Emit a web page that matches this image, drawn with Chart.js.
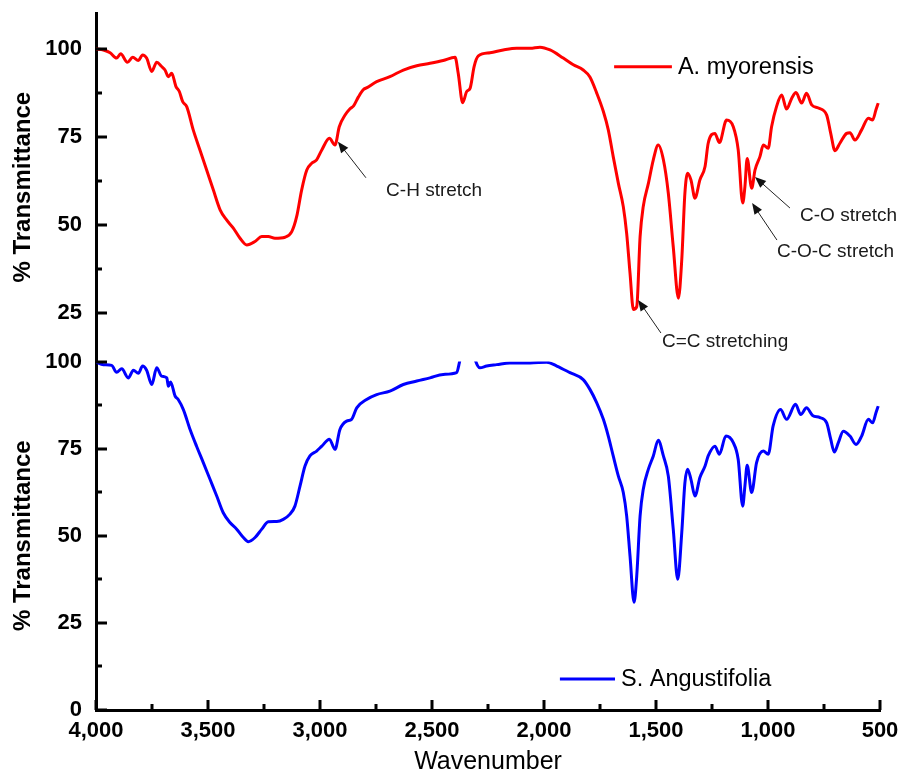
<!DOCTYPE html>
<html>
<head>
<meta charset="utf-8">
<script src="https://cdn.jsdelivr.net/npm/chart.js@4.4.1/dist/chart.umd.min.js"></script>
<style>
    html, body { margin: 0; padding: 0; background: #fff; }
    canvas { display: block; }
</style>
</head>
<body>
<canvas id="ftirChart" width="901" height="777"></canvas>
<script>
"use strict";

// series names
var seriesNames = ['A. myorensis', 'S. Angustifolia'];

// A. myorensis (top panel)
var redWavenumber = [4000, 3967, 3937, 3908, 3890, 3860, 3836, 3811, 3792, 3774, 3751, 3729, 3707, 3692, 3677, 3662, 3643, 3628, 3613, 3595,
    3566, 3536, 3506, 3476, 3446, 3417, 3387, 3357, 3327, 3290, 3260, 3231, 3201, 3156, 3126, 3104, 3082, 3059, 3037, 3015,
    2992, 2958, 2933, 2914, 2888, 2866, 2850, 2829, 2807, 2790, 2747, 2688, 2628, 2568, 2509, 2450, 2397, 2383, 2363, 2345,
    2330, 2312, 2293, 2241, 2182, 2122, 2062, 2018, 1973, 1914, 1869, 1825, 1795, 1765, 1735, 1713, 1691, 1668, 1646, 1631,
    1616, 1601, 1586, 1571, 1557, 1534, 1512, 1490, 1467, 1445, 1423, 1400, 1385, 1371, 1359, 1344, 1326, 1304, 1281, 1267,
    1237, 1217, 1185, 1155, 1133, 1113, 1103, 1093, 1073, 1058, 1036, 1021, 999, 984, 962, 939, 917, 894, 875, 850,
    828, 805, 775, 738, 720, 701, 679, 649, 634, 612, 582, 552, 533, 518, 508];
var redTransmittance = [100.0, 99.7, 98.9, 97.4, 98.6, 96.2, 97.6, 96.7, 98.3, 97.4, 93.6, 96.2, 95.0, 94.0, 92.1, 93.1, 89.3, 87.9, 85.0, 83.6,
    77.0, 71.3, 65.6, 59.9, 54.3, 51.4, 49.1, 46.2, 44.3, 45.3, 46.7, 46.7, 46.2, 46.5, 48.1, 52.4, 59.9, 65.6, 67.5, 68.5,
    71.3, 74.6, 72.7, 77.9, 81.2, 83.0, 83.8, 86.3, 88.4, 89.0, 90.7, 92.1, 94.0, 95.2, 95.9, 96.7, 97.6, 93.1, 84.7, 87.9,
    88.8, 95.0, 98.0, 98.9, 99.7, 100.2, 100.2, 100.5, 99.7, 97.4, 95.5, 94.0, 92.0, 87.5, 82.2, 77.0, 69.4, 61.8, 55.2, 47.6,
    36.3, 26.0, 26.8, 46.7, 55.2, 61.8, 68.5, 72.7, 68.5, 59.0, 43.8, 29.2, 40.1, 59.0, 64.7, 62.8, 57.6, 62.8, 66.6, 73.2,
    76.0, 73.4, 79.8, 77.9, 71.3, 56.2, 60.9, 68.9, 60.4, 65.6, 69.4, 72.7, 71.8, 77.9, 83.6, 86.9, 82.9, 86.0, 87.6, 84.6,
    87.4, 84.1, 83.2, 81.2, 76.0, 71.1, 73.2, 76.0, 76.2, 74.1, 77.0, 80.3, 79.8, 82.7, 84.6];

// S. Angustifolia (bottom panel)
var blueWavenumber = [4000, 3967, 3930, 3908, 3885, 3856, 3833, 3811, 3792, 3774, 3751, 3729, 3707, 3684, 3677, 3667, 3647, 3633, 3610, 3580,
    3551, 3521, 3491, 3461, 3432, 3402, 3372, 3342, 3320, 3290, 3260, 3231, 3193, 3164, 3134, 3112, 3089, 3067, 3045, 3015,
    2992, 2958, 2933, 2911, 2881, 2859, 2836, 2792, 2747, 2688, 2628, 2568, 2509, 2450, 2390, 2378, 2365, 2320, 2305, 2286,
    2256, 2211, 2152, 2062, 1988, 1943, 1884, 1825, 1795, 1765, 1735, 1713, 1691, 1668, 1646, 1631, 1616, 1598, 1586, 1571,
    1557, 1534, 1512, 1490, 1467, 1445, 1423, 1403, 1385, 1371, 1359, 1344, 1326, 1304, 1281, 1267, 1237, 1217, 1188, 1155,
    1133, 1113, 1103, 1093, 1073, 1051, 1021, 999, 977, 944, 917, 877, 854, 828, 801, 768, 738, 720, 704, 686,
    664, 634, 607, 582, 552, 533, 518, 508];
var blueTransmittance = [99.8, 99.1, 98.9, 96.9, 97.9, 95.3, 97.5, 96.6, 98.7, 97.5, 93.4, 98.2, 95.8, 95.3, 92.9, 94.1, 90.1, 89.1, 86.2, 80.5,
    75.7, 71.0, 66.2, 61.4, 56.6, 53.8, 51.9, 49.5, 48.3, 49.5, 51.9, 54.0, 54.1, 54.7, 56.2, 58.5, 64.3, 70.0, 72.9, 74.3,
    75.7, 77.7, 74.8, 80.5, 82.9, 83.4, 86.7, 89.1, 90.5, 91.5, 93.4, 94.4, 95.3, 96.3, 96.8, 99.6, 104.0, 104.0, 100.1, 98.2,
    98.7, 99.1, 99.6, 99.6, 99.8, 98.7, 96.8, 94.8, 92.0, 88.2, 83.4, 78.6, 72.9, 67.1, 62.4, 55.7, 44.2, 30.9, 38.5, 55.7,
    63.3, 69.1, 72.9, 77.4, 72.9, 67.1, 51.9, 37.5, 50.9, 65.2, 69.1, 66.2, 61.4, 66.7, 70.0, 72.9, 75.7, 73.4, 78.6, 76.7,
    71.9, 58.5, 64.3, 70.2, 62.4, 71.0, 74.3, 73.4, 81.5, 86.2, 83.4, 87.7, 84.8, 86.7, 84.5, 83.9, 82.4, 77.7, 74.0, 76.7,
    80.0, 78.6, 76.2, 78.6, 83.4, 82.4, 85.3, 87.2];

// tick labels
var xTicks = [4000, 3500, 3000, 2500, 2000, 1500, 1000, 500];
var xMinorTicks = [3750, 3250, 2750, 2250, 1750, 1250, 750];
var topTicks = [25, 50, 75, 100];
var topMinorTicks = [37.5, 62.5, 87.5];
var bottomTicks = [0, 25, 50, 75, 100];
var bottomMinorTicks = [12.5, 37.5, 62.5, 87.5];

// peak labels: [text, tip wavenumber, tip %T, tail wavenumber, tail %T, text wavenumber, text %T]
var peakLabels = [
    ['C-H stretch', 2920, 73.6, 2795, 63.4, 2705, 59.7],
    ['C=C stretching', 1580, 28.7, 1478, 19.3, 1473, 16.8],
    ['C-O-C stretch', 1071, 56.2, 960, 45.7, 960, 42.3],
    ['C-O stretch', 1058, 63.6, 902, 54.8, 857, 52.6]
];

function toPoints(xs, ys) {
    return xs.map(function(x, i) {
        return { x: x, y: ys[i] };
    });
}

Chart.defaults.font.family = "'Liberation Sans', Arial, sans-serif";
Chart.defaults.color = '#000';

// clip each curve to its own panel
var panelClip = {
    id: 'panelClip',
    beforeDatasetDraw: function(chart, args) {
        var ys = chart.scales[args.meta.yAxisID];
        var ctx = chart.ctx;
        ctx.save();
        ctx.beginPath();
        ctx.rect(chart.chartArea.left, ys.top - 1, chart.chartArea.width + 4, ys.bottom - ys.top + 2);
        ctx.clip();
    },
    afterDatasetDraw: function(chart) {
        chart.ctx.restore();
    }
};

// inward tick marks, legends and peak labels
var decorations = {
    id: 'decorations',
    afterDraw: function(chart) {
        var ctx = chart.ctx;
        var xs = chart.scales.x;
        var yt = chart.scales.yTop;
        var yb = chart.scales.yBot;
        var left = chart.chartArea.left;
        var bottom = chart.chartArea.bottom;

        ctx.save();
        ctx.strokeStyle = '#000';
        ctx.lineWidth = 3;

        function yTicks(scale, vals, len) {
            vals.forEach(function(v) {
                var py = Math.round(scale.getPixelForValue(v));
                ctx.beginPath();
                ctx.moveTo(left, py);
                ctx.lineTo(left + len, py);
                ctx.stroke();
            });
        }
        function xTickMarks(vals, len) {
            vals.forEach(function(v) {
                var px = Math.round(xs.getPixelForValue(v));
                ctx.beginPath();
                ctx.moveTo(px, bottom);
                ctx.lineTo(px, bottom - len);
                ctx.stroke();
            });
        }
        yTicks(yt, topTicks, 11);
        yTicks(yt, topMinorTicks, 6);
        yTicks(yb, bottomTicks, 11);
        yTicks(yb, bottomMinorTicks, 6);
        xTickMarks(xTicks, 10);
        xTickMarks(xMinorTicks, 6);

        // legends
        var legends = [
            { name: seriesNames[0], color: '#ff0000', scale: yt, x0: 1687, x1: 1429, y: 94.9 },
            { name: seriesNames[1], color: '#0000ff', scale: yb, x0: 1929, x1: 1683, y: 8.9 }
        ];
        ctx.font = "23.5px 'Liberation Sans', Arial, sans-serif";
        ctx.textBaseline = 'middle';
        ctx.textAlign = 'left';
        legends.forEach(function(l) {
            var py = l.scale.getPixelForValue(l.y);
            var p0 = xs.getPixelForValue(l.x0);
            var p1 = xs.getPixelForValue(l.x1);
            ctx.strokeStyle = l.color;
            ctx.lineWidth = 3;
            ctx.beginPath();
            ctx.moveTo(p0, py);
            ctx.lineTo(p1, py);
            ctx.stroke();
            ctx.fillStyle = '#000';
            ctx.fillText(l.name, p1 + 6, py + 1);
        });

        // peak labels with arrows
        ctx.font = "19px 'Liberation Sans', Arial, sans-serif";
        peakLabels.forEach(function(p) {
            var tx = xs.getPixelForValue(p[1]), ty = yt.getPixelForValue(p[2]);
            var sx = xs.getPixelForValue(p[3]), sy = yt.getPixelForValue(p[4]);
            var ang = Math.atan2(ty - sy, tx - sx);
            ctx.strokeStyle = '#222';
            ctx.lineWidth = 1;
            ctx.beginPath();
            ctx.moveTo(sx, sy);
            ctx.lineTo(tx - 8 * Math.cos(ang), ty - 8 * Math.sin(ang));
            ctx.stroke();
            ctx.fillStyle = '#111';
            ctx.beginPath();
            ctx.moveTo(tx, ty);
            ctx.lineTo(tx - 11 * Math.cos(ang) + 4.5 * Math.sin(ang), ty - 11 * Math.sin(ang) - 4.5 * Math.cos(ang));
            ctx.lineTo(tx - 11 * Math.cos(ang) - 4.5 * Math.sin(ang), ty - 11 * Math.sin(ang) + 4.5 * Math.cos(ang));
            ctx.closePath();
            ctx.fill();
            ctx.fillStyle = '#1a1a1a';
            ctx.fillText(p[0], xs.getPixelForValue(p[5]), yt.getPixelForValue(p[6]));
        });
        ctx.restore();
    }
};

var tickFont = { size: 22, weight: 'bold' };
var titleFont = { size: 24, weight: 'bold' };

function yAxis(min, max, ticks, weight) {
    return {
        type: 'linear',
        position: 'left',
        stack: 'ftir',
        stackWeight: 1,
        weight: weight,
        min: min,
        max: max,
        grid: { display: false, drawTicks: false },
        border: { display: true, color: '#000', width: 3 },
        ticks: { font: tickFont, padding: 14, color: '#000' },
        title: { display: true, text: '% Transmittance', font: titleFont, padding: { top: 9, bottom: 0 }, color: '#000' },
        afterBuildTicks: function(scale) {
            scale.ticks = ticks.map(function(v) { return { value: v }; });
        },
        afterFit: function(scale) {
            scale.width = 96;
            scale.paddingTop = 0;
            scale.paddingBottom = 0;
        }
    };
}

var ctx = document.getElementById('ftirChart').getContext('2d');
var ftirChart = new Chart(ctx, {
    type: 'line',
    data: {
        datasets: [{
            label: seriesNames[0],
            data: toPoints(redWavenumber, redTransmittance),
            borderColor: '#ff0000',
            borderWidth: 3,
            pointRadius: 0,
            cubicInterpolationMode: 'monotone',
            xAxisID: 'x',
            yAxisID: 'yTop'
        }, {
            label: seriesNames[1],
            data: toPoints(blueWavenumber, blueTransmittance),
            borderColor: '#0000ff',
            borderWidth: 3,
            pointRadius: 0,
            cubicInterpolationMode: 'monotone',
            xAxisID: 'x',
            yAxisID: 'yBot'
        }]
    },
    options: {
        responsive: false,
        animation: false,
        layout: { padding: { top: 13, right: 21, bottom: 0, left: 0 } },
        plugins: {
            legend: { display: false },
            tooltip: { enabled: false }
        },
        scales: {
            x: {
                type: 'linear',
                position: 'bottom',
                reverse: true,
                min: 500,
                max: 4000,
                grid: { display: false, drawTicks: false },
                border: { display: true, color: '#000', width: 3 },
                ticks: {
                    font: { size: 22, weight: 'bold' },
                    padding: 8,
                    color: '#000',
                    maxRotation: 0,
                    callback: function(v) { return v.toLocaleString('en-US'); }
                },
                afterBuildTicks: function(scale) {
                    scale.ticks = xTicks.map(function(v) { return { value: v }; });
                },
                afterFit: function(scale) {
                    scale.height = 67;
                    scale.paddingLeft = 0;
                    scale.paddingRight = 0;
                },
                title: { display: true, text: 'Wavenumber', font: { size: 25 }, padding: { top: 0, bottom: 0 }, color: '#000' }
            },
            yTop: yAxis(11.2, 110.2, topTicks, 2),
            yBot: yAxis(0, 100, bottomTicks, 1)
        }
    },
    plugins: [panelClip, decorations]
});
</script>
</body>
</html>
